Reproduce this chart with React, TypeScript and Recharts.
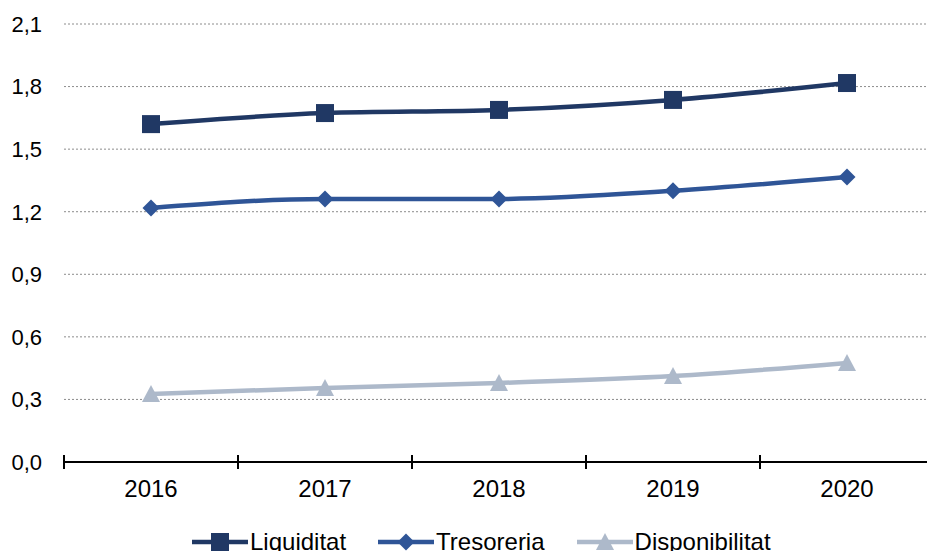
import React from 'react';
import { LineChart, Line, XAxis, YAxis, CartesianGrid, Legend, ReferenceLine } from 'recharts';

const years = ['2016', '2017', '2018', '2019', '2020'];
const liquiditat = [1.62, 1.673, 1.688, 1.736, 1.817];
const tresoreria = [1.218, 1.261, 1.261, 1.3, 1.366];
const disponibilitat = [0.326, 0.355, 0.379, 0.412, 0.475];
const yTicks = [0, 0.3, 0.6, 0.9, 1.2, 1.5, 1.8, 2.1];
const boundaries = [0, 1, 2, 3, 4, 5];

const data = years.map((y, i) => ({
  pos: i + 0.5,
  year: y,
  Liquiditat: liquiditat[i],
  Tresoreria: tresoreria[i],
  Disponibilitat: disponibilitat[i],
}));
const xTicks = data.map((d) => d.pos);

const C_LIQ = '#203864';
const C_TRE = '#2F5597';
const C_DIS = '#ADB9CA';
const FONT = '"Liberation Sans", Arial, sans-serif';

const Square = (props: any) => {
  const { cx, cy, fill } = props;
  if (cx == null || cy == null) return null;
  return <rect x={cx - 9} y={cy - 9} width={18} height={18} fill={fill} />;
};
const Diamond = (props: any) => {
  const { cx, cy, fill } = props;
  if (cx == null || cy == null) return null;
  const r = 8.5;
  return <polygon points={`${cx},${cy - r} ${cx + r},${cy} ${cx},${cy + r} ${cx - r},${cy}`} fill={fill} />;
};
const Triangle = (props: any) => {
  const { cx, cy, fill } = props;
  if (cx == null || cy == null) return null;
  return <polygon points={`${cx},${cy - 9} ${cx + 9},${cy + 8} ${cx - 9},${cy + 8}`} fill={fill} />;
};

const legendItems = [
  { name: 'Liquiditat', color: C_LIQ, kind: 'square' },
  { name: 'Tresoreria', color: C_TRE, kind: 'diamond' },
  { name: 'Disponibilitat', color: C_DIS, kind: 'triangle' },
];

const renderLegend = () => (
  <div style={{ display: 'flex', alignItems: 'center', height: 24, fontFamily: FONT, fontSize: 24, color: '#000' }}>
    {legendItems.map((it, i) => (
      <div key={it.name} style={{ display: 'flex', alignItems: 'center', marginRight: i < 2 ? 32 : 0 }}>
        <svg width={56} height={24} style={{ display: 'block' }}>
          <line x1={0} y1={12} x2={56} y2={12} stroke={it.color} strokeWidth={4.5} strokeLinecap="round" />
          {it.kind === 'square' && <Square cx={28} cy={12} fill={it.color} />}
          {it.kind === 'diamond' && <Diamond cx={28} cy={12} fill={it.color} />}
          {it.kind === 'triangle' && <Triangle cx={28} cy={12} fill={it.color} />}
        </svg>
        <span style={{ marginLeft: 2, lineHeight: '24px', whiteSpace: 'nowrap' }}>{it.name}</span>
      </div>
    ))}
  </div>
);

const TickMark = (props: any) => {
  const { x1, x2, y1, y2 } = props;
  const yb = Math.max(y1, y2);
  const x = x1 != null ? x1 : x2;
  return <line x1={x} x2={x} y1={yb - 7} y2={yb + 7} stroke="#000" strokeWidth={2} />;
};

export default function App() {
  return (
    <div style={{ position: 'absolute', left: 0, top: 0, width: 927, height: 551, overflow: 'hidden', background: '#fff' }}>
      <LineChart width={940} height={551} data={data} margin={{ top: 24, right: 6, left: 0, bottom: 25 }}>
        <CartesianGrid vertical={false} stroke="#8c8c8c" strokeDasharray="2 2" />
        <XAxis
          dataKey="pos"
          type="number"
          domain={[0, 5]}
          ticks={xTicks}
          tickFormatter={(v: number) => years[Math.floor(v)]}
          tickLine={false}
          axisLine={{ stroke: '#000', strokeWidth: 2 }}
          tickSize={6}
          tickMargin={12}
          height={40}
          tick={{ fill: '#000', fontSize: 24, fontFamily: FONT }}
        />
        <YAxis
          domain={[0, 2.1]}
          ticks={yTicks}
          width={64}
          axisLine={false}
          tickLine={false}
          tickSize={0}
          tickMargin={22}
          tickFormatter={(v: number) => v.toFixed(1).replace('.', ',')}
          tick={{ fill: '#000', fontSize: 22, fontFamily: FONT }}
        />
        {boundaries.map((b) => (
          <ReferenceLine key={b} x={b} ifOverflow="visible" shape={TickMark} />
        ))}
        <Line type="monotone" dataKey="Liquiditat" stroke={C_LIQ} strokeWidth={4.5} dot={<Square fill={C_LIQ} />} activeDot={false} isAnimationActive={false} />
        <Line type="monotone" dataKey="Tresoreria" stroke={C_TRE} strokeWidth={4.5} dot={<Diamond fill={C_TRE} />} activeDot={false} isAnimationActive={false} />
        <Line type="monotone" dataKey="Disponibilitat" stroke={C_DIS} strokeWidth={4.5} dot={<Triangle fill={C_DIS} />} activeDot={false} isAnimationActive={false} />
        <Legend content={renderLegend} wrapperStyle={{ position: 'absolute', left: 192, top: 530, width: 'auto', height: 24 }} />
      </LineChart>
    </div>
  );
}
